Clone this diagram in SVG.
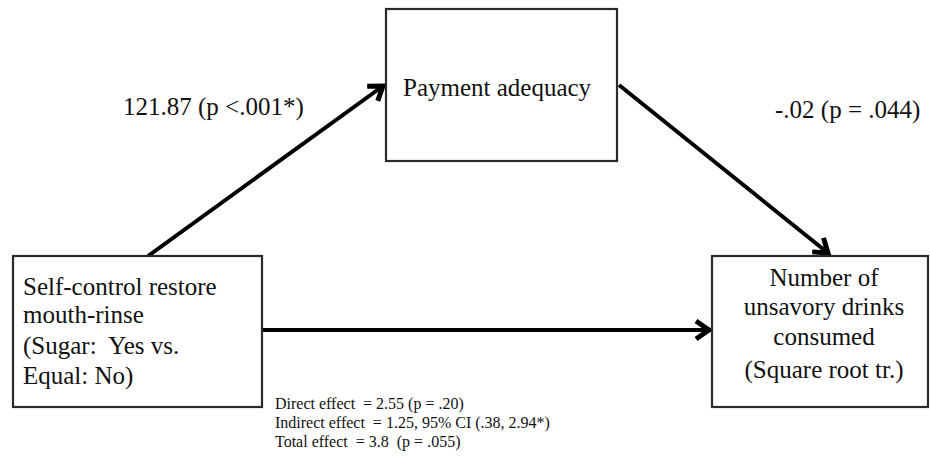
<svg xmlns="http://www.w3.org/2000/svg" width="930" height="464" viewBox="0 0 930 464">
<style>
.box{fill:#fff;stroke:#2a2a2a;stroke-width:2.2}
.t{font-family:"Liberation Serif","Times New Roman",serif;fill:#111;font-size:25px}
.s{font-family:"Liberation Serif","Times New Roman",serif;fill:#111;font-size:16px}
.c{stroke:#000;stroke-width:4;fill:none;stroke-linecap:butt}
</style>
<defs>
<marker id="ah" markerUnits="userSpaceOnUse" markerWidth="30" markerHeight="30" viewBox="0 0 30 30" refX="26" refY="15" orient="auto">
<path d="M13,6 L26,15 L13,24" fill="none" stroke="#000" stroke-width="5" stroke-linejoin="miter"/>
</marker>
</defs>
<rect width="930" height="464" fill="#fff"/>
<g id="connectors">
<path class="c" d="M148,256 L383,86" marker-end="url(#ah)"/>
<path class="c" d="M619,85 L828,253" marker-end="url(#ah)"/>
<path class="c" d="M263,330 L709,330" marker-end="url(#ah)"/>
</g>
<g id="node-x">
<rect class="box" x="13" y="256" width="249" height="151"/>
<text class="t" x="23" y="295">Self-control restore</text>
<text class="t" x="23" y="323">mouth-rinse</text>
<text class="t" x="23" y="354" xml:space="preserve">(Sugar:  Yes vs.</text>
<text class="t" x="23" y="384">Equal: No)</text>
</g>
<g id="node-m">
<rect class="box" x="386" y="9" width="231" height="152"/>
<text class="t" x="403" y="96">Payment adequacy</text>
</g>
<g id="node-y">
<rect class="box" x="712" y="256" width="216" height="151"/>
<text class="t" x="824" y="286" text-anchor="middle">Number of</text>
<text class="t" x="824" y="315" text-anchor="middle">unsavory drinks</text>
<text class="t" x="824" y="345" text-anchor="middle">consumed</text>
<text class="t" x="824" y="378" text-anchor="middle">(Square root tr.)</text>
</g>
<g id="labels">
<text class="t" x="123" y="115">121.87 (p &lt;.001*)</text>
<text class="t" x="775" y="118">-.02 (p = .044)</text>
<text class="s" x="275" y="409" xml:space="preserve">Direct effect  = 2.55 (p = .20)</text>
<text class="s" x="275" y="428" xml:space="preserve">Indirect effect  = 1.25, 95% CI (.38, 2.94*)</text>
<text class="s" x="275" y="447" xml:space="preserve">Total effect  = 3.8  (p = .055)</text>
</g>
</svg>
